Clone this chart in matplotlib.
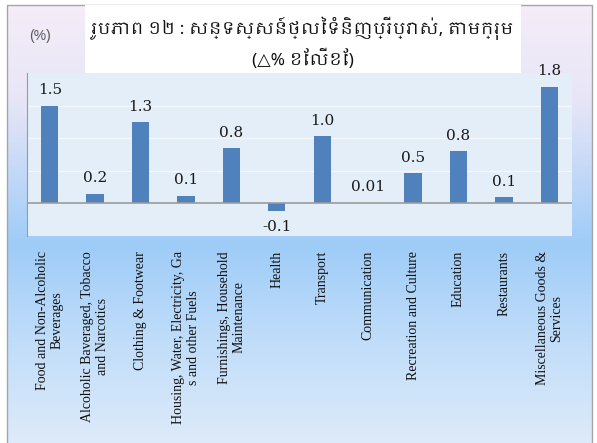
import matplotlib
matplotlib.use("Agg")
import matplotlib.pyplot as plt
import numpy as np
from matplotlib import font_manager
from matplotlib.patches import Rectangle

categories = [
    "Food and Non-Alcoholic\nBeverages",
    "Alcoholic Baveraged, Tobacco\nand Narcotics",
    "Clothing & Footwear",
    "Housing, Water, Electricity, Ga\ns and other Fuels",
    "Furnishings, Household\nMaintenance",
    "Health",
    "Transport",
    "Communication",
    "Recreation and Culture",
    "Education",
    "Restaurants",
    "Miscellaneous Goods &\nServices",
]
values = [1.5, 0.15, 1.25, 0.12, 0.85, -0.12, 1.03, 0.01, 0.46, 0.8, 0.1, 1.79]
value_labels = ["1.5", "0.2", "1.3", "0.1", "0.8", "-0.1", "1.0", "0.01", "0.5", "0.8", "0.1", "1.8"]
title_line1 = "រូបភាព ១២ : សន្ទស្សន៍ថ្លៃទំនិញប្រើប្រាស់, តាមក្រុម"
title_line2 = "(△% ខែលើខែ)"
unit_label = "(%)"

# find a font with Khmer glyphs if one exists
khmer_fams = []
for f in font_manager.fontManager.ttflist:
    if "khmer" in f.name.lower() and f.name not in khmer_fams:
        khmer_fams.append(f.name)
title_family = khmer_fams + ["Noto Sans", "DejaVu Sans"]

W, H = 597, 443
fig = plt.figure(figsize=(W / 100, H / 100), dpi=100)
fig.patch.set_facecolor("white")

# background gradient frame
bg = fig.add_axes([0, 0, 1, 1], zorder=0)
bg.set_xlim(0, W)
bg.set_ylim(H, 0)
bg.axis("off")
stops_y = [5, 100, 245, 330, 443]
stops_c = np.array([
    [0.96, 0.93, 0.97],
    [0.91, 0.90, 0.97],
    [0.62, 0.80, 0.97],
    [0.74, 0.86, 0.98],
    [0.87, 0.92, 0.98],
])
ys = np.linspace(5, 443, 300)
grad = np.stack([np.interp(ys, stops_y, stops_c[:, k]) for k in range(3)], axis=-1)
grad = np.repeat(grad[:, None, :], 2, axis=1)
bg.imshow(grad, extent=[7, 592, 443, 5], aspect="auto", interpolation="bilinear")
bg.add_patch(Rectangle((7, 5), 585, 440, fill=False, edgecolor="#a6a6a6", lw=1))
# title box
bg.add_patch(Rectangle((85, 5), 436, 83, facecolor="white", edgecolor="none", zorder=5))
bg.text(303, 28, title_line1, ha="center", va="center", fontsize=12.5,
        family=title_family, color="#111111", zorder=6)
bg.text(303, 59, title_line2, ha="center", va="center", fontsize=12.5,
        family=title_family, color="#111111", zorder=6)
bg.text(40, 36, unit_label, ha="center", va="center", fontsize=10,
        family=["Liberation Sans", "DejaVu Sans"], color="#595959")

# plot axes
x0, x1, y0, y1 = 27, 572, 73, 236
ax = fig.add_axes([x0 / W, 1 - y1 / H, (x1 - x0) / W, (y1 - y0) / H], zorder=1)
ax.set_facecolor("#e3eef9")
x = np.arange(len(values))
ax.bar(x, values, width=0.38, color="#4f81bd", zorder=3)
ax.set_xlim(-0.5, len(values) - 0.5)
ax.set_ylim(-0.5, 2.0)
for g in [0.5, 1.0, 1.5]:
    ax.axhline(g, color="#f4f8fc", lw=1, zorder=1)
ax.axhline(0, color="#9a9a9a", lw=1.2, zorder=4)
ax.set_xticks([])
ax.set_yticks([])
for s in ["top", "right", "bottom"]:
    ax.spines[s].set_visible(False)
ax.spines["left"].set_color("#9a9a9a")

for xi, v, lab in zip(x, values, value_labels):
    if v >= 0:
        ax.annotate(lab, (xi, v), xytext=(0, 6), textcoords="offset points",
                    ha="center", va="bottom", fontsize=11,
                    family=["DejaVu Serif"], color="#1a1a1a", zorder=5)
    else:
        ax.annotate(lab, (xi, v), xytext=(0, -6), textcoords="offset points",
                    ha="center", va="top", fontsize=11,
                    family=["DejaVu Serif"], color="#1a1a1a", zorder=5)

for xi, cat in zip(x, categories):
    fig.text((x0 + (xi + 0.5) * (x1 - x0) / len(values)) / W, 1 - 251 / H, cat,
             rotation=90, ha="center", va="top", multialignment="center",
             fontsize=10, family=["Liberation Serif", "DejaVu Serif"], color="#111111",
             linespacing=1.15)

fig.savefig("out.png", dpi=100)
